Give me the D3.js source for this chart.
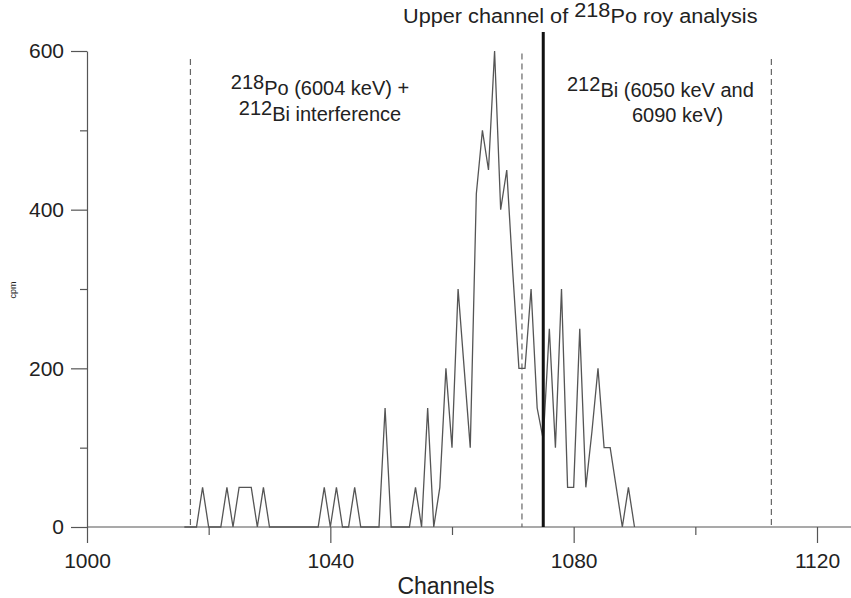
<!DOCTYPE html>
<html>
<head>
<meta charset="utf-8">
<script src="https://cdn.jsdelivr.net/npm/d3@7"></script>
<style>
  body { margin: 0; background: #fff; }
  svg { display: block; }
  text { font-family: "Liberation Sans", Arial, Helvetica, sans-serif; fill: #222; }
</style>
</head>
<body>
<svg id="chart" width="851" height="598"></svg>
<script>
// Alpha spectrum: count rate per channel
const channels = d3.range(1016, 1091);
const cpm = [
  0, 0, 0, 50, 0, 0, 0, 50, 0, 50, 50, 50, 0, 50, 0,
  0, 0, 0, 0, 0, 0, 0, 0,
  50, 0, 50, 0, 0, 50, 0, 0, 0, 0, 150, 0, 0, 0, 0, 50, 0, 150, 0, 50,
  200, 100, 300, 200, 100, 420, 500, 450, 600, 400, 450, 320, 200, 200, 300,
  150, 110, 250, 100, 300, 50, 50, 250, 50, 120, 200, 100, 100, 50, 0, 50, 0
];

// Axis ticks
const xMajorTicks = [1000, 1040, 1080, 1120];
const xMinorTicks = [1020, 1060, 1100];
const yMajorTicks = [0, 200, 400, 600];
const yMinorTicks = [100, 300, 500];

// Region boundaries (channels)
const regionBounds = [1017, 1071.5, 1112.5];
const regionTops = [590, 597, 590];
const roiUpperChannel = 1075;

const W = 851, H = 598;
const svg = d3.select("#chart");

const x = d3.scaleLinear().domain([1000, 1120]).range([87, 817]);
const y = d3.scaleLinear().domain([0, 600]).range([527, 51]);

const axisColor = "#555";

// x axis baseline runs to the right edge
svg.append("line")
  .attr("x1", x(1000)).attr("x2", W)
  .attr("y1", y(0)).attr("y2", y(0))
  .attr("stroke", axisColor).attr("stroke-width", 1.2);

const xMajor = svg.append("g")
  .attr("transform", `translate(0,${y(0)})`)
  .call(d3.axisBottom(x).tickValues(xMajorTicks).tickSize(16).tickSizeOuter(0).tickPadding(10).tickFormat(d3.format("d")));
const xMinor = svg.append("g")
  .attr("transform", `translate(0,${y(0)})`)
  .call(d3.axisBottom(x).tickValues(xMinorTicks).tickSize(8).tickSizeOuter(0).tickFormat(""));
const yMajor = svg.append("g")
  .attr("transform", `translate(${x(1000)},0)`)
  .call(d3.axisLeft(y).tickValues(yMajorTicks).tickSize(16).tickSizeOuter(0).tickPadding(7));
const yMinor = svg.append("g")
  .attr("transform", `translate(${x(1000)},0)`)
  .call(d3.axisLeft(y).tickValues(yMinorTicks).tickSize(7).tickSizeOuter(0).tickFormat(""));

[xMajor, xMinor, yMajor, yMinor].forEach(g => {
  g.selectAll("line").attr("stroke", axisColor).attr("stroke-width", 1.2);
  g.selectAll("text").attr("font-size", 21).attr("fill", "#222")
    .style("font-family", '"Liberation Sans", Arial, sans-serif');
});
[xMajor, xMinor].forEach(g => g.select(".domain").remove());
yMajor.select(".domain").attr("stroke", axisColor).attr("stroke-width", 1.2);
yMinor.select(".domain").remove();

// Region boundary markers
svg.selectAll("line.bound")
  .data(regionBounds)
  .join("line")
  .attr("class", "bound")
  .attr("x1", d => x(d)).attr("x2", d => x(d))
  .attr("y1", (d, i) => y(regionTops[i])).attr("y2", y(0))
  .attr("stroke", "#666").attr("stroke-width", 1.2)
  .attr("stroke-dasharray", "6,4");

// Spectrum trace
const line = d3.line().x((d, i) => x(channels[i])).y(d => y(d));
svg.append("path")
  .datum(cpm)
  .attr("d", line)
  .attr("fill", "none")
  .attr("stroke", "#555")
  .attr("stroke-width", 1.3)
  .attr("stroke-linejoin", "miter");

// Upper channel of the ROI
svg.append("line")
  .attr("x1", x(roiUpperChannel)).attr("x2", x(roiUpperChannel))
  .attr("y1", 32).attr("y2", y(0))
  .attr("stroke", "#111").attr("stroke-width", 3);

// Labels with superscripted mass numbers
function supText(xPos, yPos, sup, rest, anchor) {
  const t = svg.append("text")
    .attr("x", xPos).attr("y", yPos)
    .attr("font-size", 20)
    .attr("text-anchor", anchor || "start");
  if (sup) t.append("tspan").attr("dy", -6).text(sup);
  t.append("tspan").attr("dy", sup ? 6 : 0).text(rest);
  return t;
}

const title = svg.append("text")
  .attr("transform", "translate(403,23) scale(1.085,1)")
  .attr("font-size", 20);
title.append("tspan").text("Upper channel of ");
title.append("tspan").attr("dy", -6).text("218");
title.append("tspan").attr("dy", 6).text("Po roy analysis");

supText(320, 95, "218", "Po (6004 keV) +", "middle");
supText(320, 121, "212", "Bi interference", "middle");
supText(567, 97, "212", "Bi (6050 keV and", "start");
supText(632, 122, "", "6090 keV)", "start");

// Axis titles
svg.append("text")
  .attr("x", 446).attr("y", 594)
  .attr("font-size", 23)
  .attr("text-anchor", "middle")
  .text("Channels");

svg.append("text")
  .attr("transform", `translate(16,290) rotate(-90)`)
  .attr("font-size", 9)
  .attr("text-anchor", "middle")
  .text("cpm");
</script>
</body>
</html>
